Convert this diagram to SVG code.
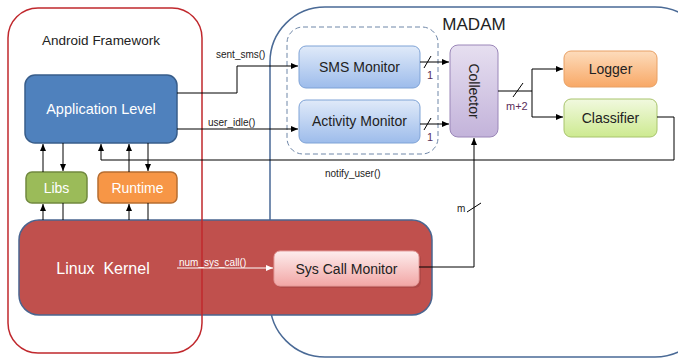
<svg xmlns="http://www.w3.org/2000/svg" width="678" height="360" viewBox="0 0 678 360">
<defs>
<linearGradient id="gBlue" x1="0" y1="0" x2="0" y2="1"><stop offset="0" stop-color="#E0EAF9"/><stop offset="1" stop-color="#9DBCEB"/></linearGradient>
<linearGradient id="gPurple" x1="0" y1="0" x2="0" y2="1"><stop offset="0" stop-color="#E6DFF0"/><stop offset="1" stop-color="#C3B3DA"/></linearGradient>
<linearGradient id="gOrange" x1="0" y1="0" x2="0" y2="1"><stop offset="0" stop-color="#FDDCBC"/><stop offset="1" stop-color="#F8A866"/></linearGradient>
<linearGradient id="gGreen" x1="0" y1="0" x2="0" y2="1"><stop offset="0" stop-color="#F1F9DF"/><stop offset="1" stop-color="#CDEA90"/></linearGradient>
<linearGradient id="gPink" x1="0" y1="0" x2="0" y2="1"><stop offset="0" stop-color="#FDEDED"/><stop offset="1" stop-color="#F2A6A5"/></linearGradient>
<marker id="ah" markerWidth="8" markerHeight="8" refX="7" refY="4" orient="auto" markerUnits="userSpaceOnUse"><path d="M0,1 L7,4 L0,7 z" fill="#000"/></marker>
<marker id="ahw" markerWidth="8" markerHeight="8" refX="7" refY="4" orient="auto" markerUnits="userSpaceOnUse"><path d="M0,1 L7,4 L0,7 z" fill="#fff"/></marker>
</defs>
<style>
text{font-family:"Liberation Sans",Arial,sans-serif;}
.lbl{font-size:10px;fill:#222;}
.num{font-size:11px;fill:#5A2E5A;}
.node{font-size:14px;fill:#222;text-anchor:middle;}
.wt{fill:#fff;text-anchor:middle;}
.conn{fill:none;stroke:#000;stroke-width:1;}
</style>
<rect width="678" height="360" fill="#fff"/>

<g id="madam">
<rect x="270" y="7" width="440" height="350" rx="55" fill="#fff" stroke="#4A6A96" stroke-width="1.5"/>
<text x="474" y="30" font-size="17" fill="#222" text-anchor="middle">MADAM</text>
</g>

<g id="kernel">
<rect x="19" y="220" width="413" height="95" rx="20" fill="#C0504D" stroke="#4A6590" stroke-width="1.5"/>
<text x="103" y="274" font-size="16" class="wt" xml:space="preserve">Linux  Kernel</text>
</g>

<g id="android-framework">
<rect x="8" y="8" width="194" height="345" rx="30" fill="none" stroke="#C0282D" stroke-width="1.5"/>
<text x="101" y="45" font-size="13.5" fill="#222" text-anchor="middle">Android Framework</text>
</g>

<g id="dashed-group">
<rect x="287" y="27" width="151" height="127" rx="16" fill="none" stroke="#6F87A8" stroke-width="1" stroke-dasharray="5,3"/>
</g>

<g id="app-level">
<rect x="25" y="75" width="152" height="68" rx="10" fill="#4F81BD" stroke="#385D8A" stroke-width="1.5"/>
<text x="101" y="114" font-size="14.5" class="wt">Application Level</text>
</g>

<g id="libs">
<rect x="26" y="172" width="61" height="31" rx="6" fill="#9BBB59" stroke="#71893F" stroke-width="1.5"/>
<text x="56.5" y="193" font-size="14" class="wt">Libs</text>
</g>

<g id="runtime">
<rect x="98" y="172" width="79" height="31" rx="6" fill="#F79646" stroke="#B66D31" stroke-width="1.5"/>
<text x="137.5" y="193" font-size="14" class="wt">Runtime</text>
</g>

<g id="sms-monitor">
<rect x="299" y="46" width="121" height="42" rx="7" fill="url(#gBlue)" stroke="#7FA3D6" stroke-width="1"/>
<text x="359.5" y="71.5" font-size="13" class="node">SMS Monitor</text>
</g>

<g id="activity-monitor">
<rect x="299" y="100" width="121" height="43" rx="7" fill="url(#gBlue)" stroke="#7FA3D6" stroke-width="1"/>
<text x="359.5" y="126" font-size="13" class="node">Activity Monitor</text>
</g>

<g id="collector">
<rect x="450" y="45" width="48" height="92" rx="8" fill="url(#gPurple)" stroke="#9A86B8" stroke-width="1"/>
<text x="0" y="0" font-size="14" class="node" transform="translate(469,91) rotate(90)">Collector</text>
</g>

<g id="logger">
<rect x="564" y="51" width="93" height="36" rx="7" fill="url(#gOrange)" stroke="#E8A064" stroke-width="1"/>
<text x="610.5" y="74" class="node">Logger</text>
</g>

<g id="classifier">
<rect x="564" y="99" width="93" height="38" rx="7" fill="url(#gGreen)" stroke="#A8C46C" stroke-width="1"/>
<text x="610.5" y="123" class="node">Classifier</text>
</g>

<g id="syscall-monitor">
<rect x="276" y="253" width="145" height="35" rx="6" fill="#8E3A38" opacity="0.35"/>
<rect x="274" y="251" width="145" height="35" rx="6" fill="url(#gPink)" stroke="#E59C9B" stroke-width="1"/>
<text x="346.5" y="273.5" font-size="14.5" class="node">Sys Call Monitor</text>
</g>

<g id="connectors">
<path class="conn" d="M177,93 H237 V66 H298" marker-end="url(#ah)"/>
<text x="216" y="58" class="lbl">sent_sms()</text>
<path class="conn" d="M177,129 H298" marker-end="url(#ah)"/>
<text x="208" y="126" class="lbl">user_idle()</text>

<path class="conn" d="M420,62 H449" marker-end="url(#ah)"/>
<path class="conn" d="M424,68 L431,56"/>
<text x="427" y="79" class="num">1</text>
<path class="conn" d="M420,124 H449" marker-end="url(#ah)"/>
<path class="conn" d="M424,130 L431,118"/>
<text x="427" y="141" class="num">1</text>

<path class="conn" d="M498,91 H532"/>
<path class="conn" d="M532,69 V117"/>
<path class="conn" d="M532,69 H563" marker-end="url(#ah)"/>
<path class="conn" d="M532,117 H563" marker-end="url(#ah)"/>
<path class="conn" d="M513,97 L523,83"/>
<text x="506" y="110" class="num">m+2</text>

<path class="conn" d="M657,117 H674 V160 H101 V144" marker-end="url(#ah)"/>
<text x="325" y="177" class="lbl">notify_user()</text>

<path class="conn" d="M419,267 H474 V138" marker-end="url(#ah)"/>
<path class="conn" d="M467,212 L481,203"/>
<text x="457" y="212" class="lbl" font-size="10.5">m</text>

<path d="M177,268 H273" stroke="#fff" stroke-width="1" fill="none" marker-end="url(#ahw)"/>
<text x="179" y="266" class="lbl" style="fill:#fff">num_sys_call()</text>

<path class="conn" stroke="#333" d="M43,172 V144" marker-end="url(#ah)"/>
<path class="conn" stroke="#333" d="M63,143 V171" marker-end="url(#ah)"/>
<path class="conn" stroke="#333" d="M129,172 V144" marker-end="url(#ah)"/>
<path class="conn" stroke="#333" d="M148,143 V171" marker-end="url(#ah)"/>
<path class="conn" stroke="#333" d="M43,220 V204" marker-end="url(#ah)"/>
<path class="conn" stroke="#333" d="M63,203 V220"/>
<path class="conn" stroke="#333" d="M129,220 V204" marker-end="url(#ah)"/>
<path class="conn" stroke="#333" d="M148,203 V220"/>
</g>
</svg>
